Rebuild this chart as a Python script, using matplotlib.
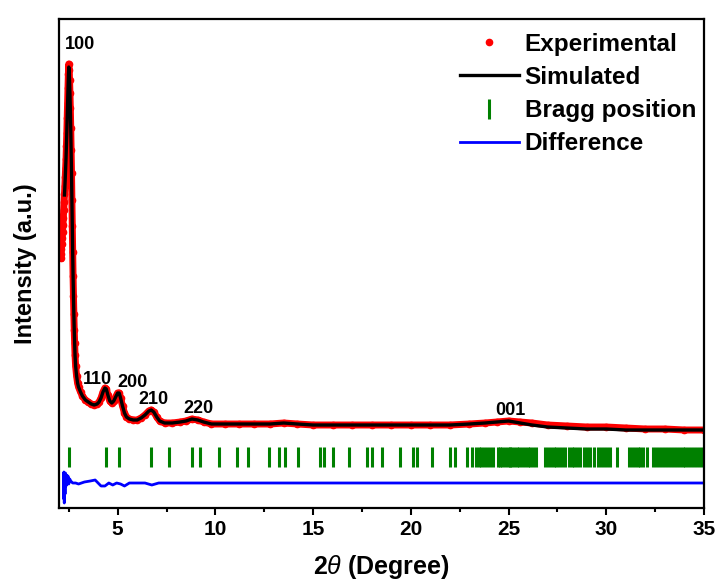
import numpy as np
import matplotlib
matplotlib.use('Agg')
import matplotlib.pyplot as plt

plt.rcParams['font.family'] = ['Liberation Sans', 'DejaVu Sans']
plt.rcParams['mathtext.fontset'] = 'custom'
plt.rcParams['mathtext.it'] = 'Liberation Sans:italic'
plt.rcParams['mathtext.rm'] = 'Liberation Sans:bold'

# experimental pattern (2theta, intensity a.u.)
exp_tt = [2.08, 2.10, 2.12, 2.14, 2.16, 2.18, 2.20, 2.22, 2.24, 2.26, 2.28, 2.30,
          2.32, 2.34, 2.36, 2.38, 2.40, 2.42, 2.44, 2.46, 2.48, 2.50, 2.52, 2.54,
          2.56, 2.58, 2.60, 2.62, 2.64, 2.66, 2.68, 2.70, 2.72, 2.74, 2.76, 2.78,
          2.80, 2.82, 2.85, 2.90, 2.95, 3.00, 3.10, 3.20, 3.35, 3.50, 3.65, 3.80,
          3.95, 4.05, 4.15, 4.25, 4.35, 4.42, 4.50, 4.60, 4.70, 4.80, 4.90, 5.00,
          5.08, 5.15, 5.25, 5.35, 5.45, 5.60, 5.80, 6.00, 6.20, 6.40, 6.60, 6.72,
          6.85, 7.00, 7.15, 7.40, 7.80, 8.20, 8.50, 8.80, 9.10, 9.40, 9.80, 10.5,
          11.2, 12.0, 12.8, 13.5, 14.2, 15.0, 16.0, 17.0, 18.0, 19.0, 20.0, 21.0,
          22.0, 23.0, 23.8, 24.4, 25.0, 25.6, 26.2, 27.0, 28.0, 29.0, 30.0, 31.0,
          32.0, 33.0, 34.0, 35.0]
exp_int = [250, 254, 259, 264, 270, 276, 283, 290, 298, 306, 314, 322,
           331, 340, 349, 362, 375, 390, 405, 420, 434, 444, 438, 428,
           415, 400, 380, 358, 335, 308, 282, 256, 232, 212, 194, 178,
           165, 153, 142, 132, 125, 121, 116, 112, 108, 106, 104, 103,
           104, 106, 110, 116, 120, 119, 113, 107, 105, 107, 111, 115,
           115, 110, 102, 95, 91, 89, 88, 88, 90, 93, 97, 98,
           96, 91, 87, 85, 85, 86, 87, 89, 88, 86, 84, 84,
           84, 84, 84, 85, 84, 83, 83, 83, 83, 83, 83, 83,
           83, 84, 85, 86, 87, 86, 85, 83, 82, 81, 81, 80,
           79, 79, 78, 78]

# simulated pattern
sim_tt = [2.28, 2.30, 2.32, 2.34, 2.36, 2.38, 2.40, 2.42, 2.44, 2.46, 2.48, 2.50,
          2.52, 2.54, 2.56, 2.58, 2.60, 2.62, 2.64, 2.66, 2.68, 2.70, 2.72, 2.74,
          2.76, 2.78, 2.80, 2.82, 2.85, 2.90, 2.95, 3.00, 3.10, 3.20, 3.35, 3.50,
          3.65, 3.80, 3.95, 4.05, 4.15, 4.25, 4.35, 4.42, 4.50, 4.60, 4.70, 4.80,
          4.90, 5.00, 5.08, 5.15, 5.25, 5.35, 5.45, 5.60, 5.80, 6.00, 6.20, 6.40,
          6.60, 6.72, 6.85, 7.00, 7.15, 7.40, 7.80, 8.20, 8.50, 8.80, 9.10, 9.40,
          9.80, 10.5, 11.2, 12.0, 12.8, 13.5, 14.2, 15.0, 16.0, 17.0, 18.0, 19.0,
          20.0, 21.0, 22.0, 23.0, 23.8, 24.4, 25.0, 25.6, 26.2, 27.0, 28.0, 29.0,
          30.0, 31.0, 32.0, 33.0, 34.0, 35.0]
sim_int = [313, 321, 330, 340, 350, 363, 376, 391, 405, 419, 432, 441, 437, 427,
           414, 399, 380, 358, 335, 308, 282, 256, 232, 212, 194, 178, 165, 153,
           142, 132, 125, 121, 116, 112, 108, 106, 104, 103, 104, 106, 110, 116,
           120, 119, 113, 107, 105, 107, 111, 115, 115, 110, 102, 95, 91, 89,
           88, 88, 90, 93, 97, 98, 96, 91, 87, 85, 85, 86, 87, 89, 88, 86,
           84, 84, 84, 84, 84, 85, 84, 83, 83, 83, 83, 83, 83, 83, 83, 84,
           85, 86, 87, 85, 83, 81, 80, 79, 79, 78, 78, 78, 78, 78]

# difference curve (offset)
diff_tt = [2.23, 2.25, 2.27, 2.29, 2.31, 2.33, 2.36, 2.39, 2.42, 2.46, 2.50, 2.55,
           2.60, 2.70, 2.85, 3.0, 3.3, 3.6, 3.85, 4.0, 4.15, 4.35, 4.55, 4.75,
           4.95, 5.15, 5.35, 5.6, 6.0, 6.4, 6.75, 7.1, 7.6, 8.5, 10, 15, 20,
           25, 30, 35]
diff_int = [10, 36, 5, 34, 14, 35, 22, 33, 24, 32, 24, 29,
            27, 25, 25, 24, 26, 27, 28, 25, 22, 22, 25, 23,
            25, 24, 22, 25, 25, 25, 23, 25, 25, 25, 25, 25, 25,
            25, 25, 25]

# Bragg positions
bragg = [2.50, 4.38, 5.07, 6.73, 7.63, 8.81, 9.21, 10.19, 11.12, 11.68, 12.76,
         13.26, 13.56, 14.25, 15.37, 15.54, 16.0, 16.84, 17.78, 18.0, 18.51,
         19.43, 20.12, 20.34, 21.07, 22.0, 22.28, 22.88, 23.14, 23.34, 23.5,
         23.6, 23.75, 23.9, 24.05, 24.2, 24.45, 24.55, 24.65, 24.8, 24.95,
         25.05, 25.15, 25.3, 25.45, 25.55, 25.7, 25.85, 26.0, 26.1, 26.25, 26.4,
         26.85, 27.0, 27.15, 27.3, 27.45, 27.6, 27.75, 27.9, 28.1, 28.25, 28.36,
         28.5, 28.65, 28.85, 29.0, 29.15, 29.35, 29.6, 29.75, 29.9, 30.05, 30.2,
         30.56, 31.15, 31.3, 31.45, 31.6, 31.75, 31.9, 32.1, 32.4, 32.55, 32.7,
         32.85, 33.0, 33.15, 33.3, 33.45, 33.6, 33.75, 33.9, 34.05, 34.2, 34.35,
         34.5, 34.65, 34.8, 34.95]
bragg_level = 51

peak_labels = ['100', '110', '200', '210', '220', '001']
label_x = [3.1, 3.98, 5.75, 6.85, 9.15, 25.1]
label_y = [455, 120, 117, 100, 91, 89]

fig = plt.figure(figsize=(7.21, 5.81), dpi=100)
ax = fig.add_axes([59/721, 1-508/581, 645/721, 489/581])

ax.plot(exp_tt, exp_int, color='#ff0000', lw=5, zorder=2)
ax.plot(exp_tt, exp_int, 'o', color='#ff0000', ms=4.5, zorder=2, label='Experimental')
ax.plot(sim_tt, sim_int, color='black', lw=2.4, zorder=3, label='Simulated')
ax.plot(bragg, [bragg_level]*len(bragg), '|', color='#008000', ms=14, mew=2.2,
        zorder=2, label='Bragg position')
ax.plot(diff_tt, diff_int, color='#0000ff', lw=2, zorder=2, label='Difference')

for t, x, y in zip(peak_labels, label_x, label_y):
    ax.text(x, y, t, fontsize=13, fontweight='bold', ha='center', va='bottom')

ax.set_xlim(2, 35)
ax.set_ylim(0, 489)
ax.set_xticks([5, 10, 15, 20, 25, 30, 35])
ax.set_xticks(np.arange(2.5, 35, 2.5), minor=True)
ax.set_yticks([])
ax.tick_params(axis='x', which='major', direction='out', length=5, width=1.5,
               labelsize=15)
ax.tick_params(axis='x', which='minor', direction='out', length=3, width=1.5)
for lab in ax.get_xticklabels():
    lab.set_fontweight('bold')
for sp in ax.spines.values():
    sp.set_linewidth(1.6)

ax.set_xlabel(r'2$\theta$ (Degree)', fontsize=18, fontweight='bold', labelpad=10)
ax.set_ylabel('Intensity (a.u.)', fontsize=17, fontweight='bold', labelpad=16)

leg = ax.legend(loc='upper left', bbox_to_anchor=(0.622, 0.972), frameon=False,
                prop={'weight': 'bold', 'size': 17.5}, handlelength=2.4,
                handletextpad=0.25, labelspacing=0.42, borderpad=0,
                borderaxespad=0, markerscale=1.0)

fig.savefig('out.png', dpi=100)
